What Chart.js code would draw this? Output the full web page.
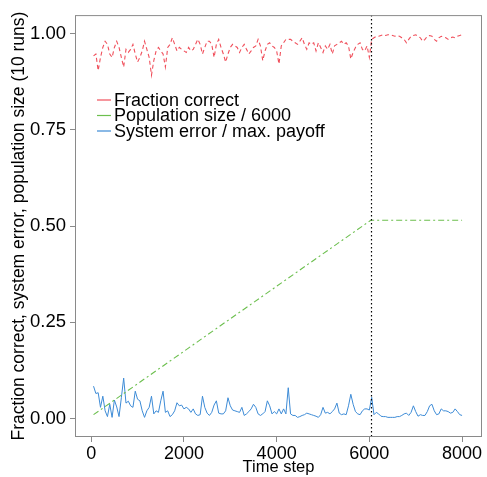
<!DOCTYPE html>
<html>
<head>
<meta charset="utf-8">
<script src="https://cdn.jsdelivr.net/npm/chart.js@4.4.1/dist/chart.umd.min.js"></script>
<style>
  html, body { margin: 0; padding: 0; background: #fff; }
  #wrap { width: 487px; height: 477px; }
</style>
</head>
<body>
<div id="wrap"><canvas id="chart" width="487" height="477"></canvas></div>
<script>
// sampling grid of the runs: every 50 time steps
const stepFirst = 50, stepLast = 8000, stepSize = 50;

const fractionCorrect = [
  0.942, 0.947, 0.904, 0.938, 0.964, 0.980, 0.972, 0.947, 0.938, 0.964,
  0.980, 0.964, 0.938, 0.913, 0.959, 0.951, 0.959, 0.972, 0.947, 0.926,
  0.938, 0.955, 0.980, 0.959, 0.938, 0.892, 0.930, 0.955, 0.964, 0.955,
  0.947, 0.913, 0.964, 0.972, 0.989, 0.972, 0.955, 0.964, 0.959, 0.955,
  0.951, 0.964, 0.955, 0.959, 0.972, 0.985, 0.972, 0.947, 0.964, 0.980,
  0.980, 0.972, 0.938, 0.972, 0.985, 0.964, 0.947, 0.926, 0.947, 0.964,
  0.972, 0.968, 0.964, 0.951, 0.964, 0.972, 0.959, 0.947, 0.955, 0.964,
  0.968, 0.985, 0.968, 0.930, 0.955, 0.972, 0.976, 0.968, 0.964, 0.955,
  0.921, 0.968, 0.976, 0.985, 0.985, 0.985, 0.980, 0.976, 0.972, 0.980,
  0.989, 0.972, 0.959, 0.976, 0.972, 0.976, 0.955, 0.976, 0.964, 0.951,
  0.968, 0.959, 0.972, 0.947, 0.968, 0.972, 0.976, 0.980, 0.972, 0.976,
  0.968, 0.934, 0.951, 0.964, 0.972, 0.976, 0.959, 0.955, 0.968, 0.938,
  0.985, 0.989, 0.993, 0.993, 0.995, 0.997, 0.995, 0.997, 0.997, 0.995,
  0.993, 0.995, 0.993, 0.989, 0.985, 0.976, 0.985, 0.993, 0.995, 0.997,
  0.993, 0.989, 0.980, 0.985, 0.993, 0.995, 0.993, 0.985, 0.980, 0.989,
  0.993, 0.991, 0.989, 0.985, 0.989, 0.991, 0.989, 0.993, 0.995, 0.997
];

const systemError = [
  0.084, 0.065, 0.067, 0.029, 0.058, 0.020, 0.005, 0.037, 0.003, 0.048,
  0.030, 0.005, 0.054, 0.105, 0.040, 0.045, 0.033, 0.029, 0.071, 0.050,
  0.046, 0.020, 0.003, 0.020, 0.029, 0.058, 0.012, 0.020, 0.016, 0.046,
  0.071, 0.016, 0.020, 0.005, 0.010, 0.020, 0.041, 0.033, 0.035, 0.025,
  0.029, 0.025, 0.016, 0.025, 0.012, 0.008, 0.010, 0.058, 0.029, 0.014,
  0.008, 0.016, 0.035, 0.046, 0.014, 0.012, 0.012, 0.020, 0.054, 0.033,
  0.022, 0.020, 0.018, 0.016, 0.029, 0.008, 0.012, 0.018, 0.025, 0.037,
  0.029, 0.012, 0.008, 0.012, 0.018, 0.046, 0.033, 0.012, 0.018, 0.012,
  0.025, 0.012, 0.025, 0.012, 0.080, 0.012, 0.008, 0.008, 0.003, 0.005,
  0.008, 0.010, 0.014, 0.012, 0.010, 0.008, 0.006, 0.003, 0.010, 0.029,
  0.014, 0.016, 0.012, 0.018, 0.025, 0.040, 0.014, 0.010, 0.012, 0.010,
  0.033, 0.063, 0.037, 0.018, 0.012, 0.010, 0.020, 0.025, 0.025, 0.022,
  0.055, 0.010, 0.016, 0.012, 0.006, 0.005, 0.005, 0.003, 0.003, 0.003,
  0.003, 0.005, 0.005, 0.008, 0.012, 0.014, 0.008, 0.016, 0.033, 0.018,
  0.006, 0.010, 0.008, 0.008, 0.018, 0.033, 0.037, 0.020, 0.010, 0.012,
  0.025, 0.020, 0.020, 0.018, 0.014, 0.016, 0.025, 0.018, 0.010, 0.008
];

// population size / 6000: linear growth, then flat once the cap is hit
const popSteps = [50, 6030, 8000];
const popSize = [0.010, 0.515, 0.515];

const capStep = 6030;
const xTicks = [0, 2000, 4000, 6000, 8000];
const yTicks = [0, 0.25, 0.5, 0.75, 1.0];

const seriesLabels = ["Fraction correct", "Population size / 6000", "System error / max. payoff"];
const seriesColors = ["#f0505c", "#6cbf4e", "#3d8bd6"];

let steps = [];
for (let t = stepFirst; t <= stepLast; t += stepSize) steps.push(t);

const toXY = (xs, ys) => ys.map((y, i) => ({x: xs[i], y: y}));

const FONT = "'Liberation Sans', Arial, sans-serif";

// box round the plot, the dotted cap line and the inset legend
const extras = {
  id: "extras",
  afterDatasetsDraw(chart) {
    const ctx = chart.ctx, a = chart.chartArea;
    const xs = chart.scales.x;
    ctx.save();
    ctx.strokeStyle = "#000";
    ctx.lineWidth = 1.2;
    ctx.setLineDash([1.5, 2.5]);
    const cx = Math.round(xs.getPixelForValue(capStep)) + 0.5;
    ctx.beginPath();
    ctx.moveTo(cx, a.top);
    ctx.lineTo(cx, a.bottom);
    ctx.stroke();
    ctx.setLineDash([]);

    ctx.font = "18px " + FONT;
    ctx.textBaseline = "middle";
    ctx.fillStyle = "#000";
    const lx = 97, ly = 100, dy = 15.5;
    seriesLabels.forEach((lab, i) => {
      ctx.strokeStyle = seriesColors[i];
      ctx.lineWidth = 1.2;
      ctx.beginPath();
      ctx.moveTo(lx, ly + i * dy);
      ctx.lineTo(lx + 14, ly + i * dy);
      ctx.stroke();
      ctx.fillText(lab, lx + 17, ly + i * dy + 1);
    });

    ctx.strokeStyle = "#8a8a8a";
    ctx.lineWidth = 1;
    ctx.strokeRect(a.left + 0.5, a.top + 0.5, a.right - a.left - 1, a.bottom - a.top - 1);
    ctx.restore();
  }
};

new Chart(document.getElementById("chart"), {
  type: "line",
  data: {
    datasets: [
      {
        label: seriesLabels[0],
        data: toXY(steps, fractionCorrect),
        borderColor: seriesColors[0],
        borderWidth: 1.1,
        borderDash: [4, 3],
        pointRadius: 0,
        tension: 0
      },
      {
        label: seriesLabels[1],
        data: toXY(popSteps, popSize),
        borderColor: seriesColors[1],
        borderWidth: 1.1,
        borderDash: [6, 3, 2, 3],
        pointRadius: 0,
        tension: 0
      },
      {
        label: seriesLabels[2],
        data: toXY(steps, systemError),
        borderColor: seriesColors[2],
        borderWidth: 1,
        pointRadius: 0,
        tension: 0
      }
    ]
  },
  options: {
    responsive: false,
    animation: false,
    layout: { padding: { top: 5, right: 5, left: 0, bottom: 0 } },
    plugins: {
      legend: { display: false },
      tooltip: { enabled: false }
    },
    scales: {
      x: {
        type: "linear",
        min: -350,
        max: 8430,
        afterBuildTicks: (s) => { s.ticks = xTicks.map(v => ({value: v})); },
        afterFit: (s) => { s.height = 40; },
        grid: { drawOnChartArea: false, color: "#8a8a8a", tickLength: 5 },
        border: { display: false },
        ticks: {
          color: "#000",
          padding: 1,
          maxRotation: 0,
          font: { family: FONT, size: 18 },
          callback: (v) => String(v)
        },
        title: {
          display: true,
          text: "Time step",
          color: "#000",
          font: { family: FONT, size: 16.5 },
          padding: { top: 0, bottom: 0 }
        }
      },
      y: {
        min: -0.048,
        max: 1.048,
        afterBuildTicks: (s) => { s.ticks = yTicks.map(v => ({value: v})); },
        afterFit: (s) => { s.width = 75; },
        grid: { drawOnChartArea: false, color: "#8a8a8a", tickLength: 5 },
        border: { display: false },
        ticks: {
          color: "#000",
          padding: 4,
          font: { family: FONT, size: 18.5 },
          callback: (v) => Number(v).toFixed(2)
        },
        title: {
          display: true,
          text: "Fraction correct, system error, population size (10 runs)",
          color: "#000",
          font: { family: FONT, size: 17.5 },
          padding: { top: 9, bottom: 0 }
        }
      }
    }
  },
  plugins: [extras]
});
</script>
</body>
</html>
